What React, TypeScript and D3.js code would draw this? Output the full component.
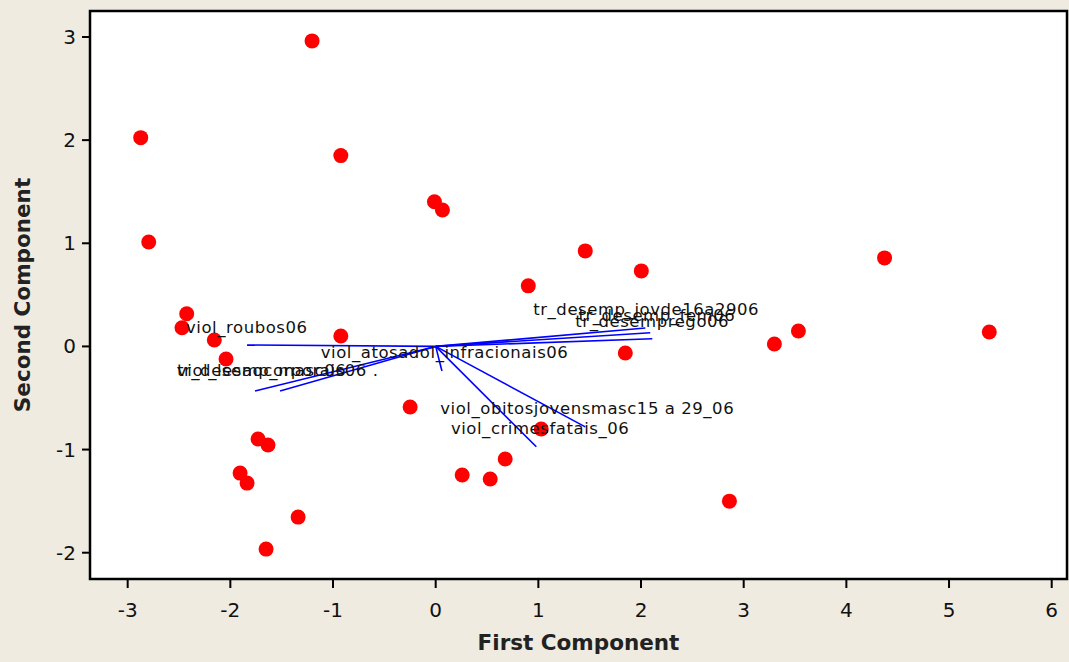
import React from "react";
import * as d3 from "d3";

// Scores (first and second principal components)
const firstComponent = [
  -2.873, -2.795, -1.204, -0.924, -0.012, 0.066, 1.457, 2.003, 0.902, 4.372,
  -2.425, -2.471, -2.156, -2.042, -0.924, 1.847, 3.299, 3.533, 5.392, 2.861,
  -0.249, 1.028, 0.258, 0.531, 0.677, -1.73, -1.633, -1.905, -1.837, -1.34, -1.652,
];
const secondComponent = [
  2.024, 1.013, 2.962, 1.85, 1.403, 1.323, 0.926, 0.732, 0.587, 0.858,
  0.317, 0.181, 0.062, -0.122, 0.101, -0.064, 0.023, 0.149, 0.14, -1.5,
  -0.588, -0.801, -1.247, -1.286, -1.092, -0.898, -0.956, -1.228, -1.325, -1.655, -1.965,
];

// Loading vectors (scaled, in score units)
const loadingX = [-1.837, -1.76, -1.516, 0.061, 0.98, 1.457, 2.042, 2.09, 2.11];
const loadingY = [0.014, -0.433, -0.433, -0.239, -0.973, -0.78, 0.178, 0.133, 0.075];

// Variable labels and their anchor positions (score units)
const varNames = [
  "viol_roubos06",
  "tr_desemp_masc06",
  "viol_lesaocorporais06 .",
  "viol_atosadol_infracionais06",
  "viol_obitosjovensmasc15 a 29_06",
  "viol_crimesfatais_06",
  "tr_desemp_jovde16a2906",
  "tr_desemp_fem06",
  "tr_desemprego06",
];
const labelX = [-2.432, -2.52, -2.52, -1.12, 0.044, 0.148, 0.95, 1.39, 1.36];
const labelY = [0.133, -0.287, -0.287, -0.115, -0.656, -0.85, 0.305, 0.246, 0.188];

const xTicks = [-3, -2, -1, 0, 1, 2, 3, 4, 5, 6];
const yTicks = [-2, -1, 0, 1, 2, 3];

const W = 1069;
const H = 662;
const left = 90;
const right = 1067;
const top = 11;
const bottom = 579;

export default function App() {
  const x = d3.scaleLinear().domain([-3.367, 6.149]).range([left, right]);
  const y = d3.scaleLinear().domain([-2.255, 3.252]).range([bottom, top]);
  const font = "'DejaVu Sans', Verdana, sans-serif";

  return (
    <svg
      width={W}
      height={H}
      style={{ position: "absolute", left: 0, top: 0 }}
      fontFamily={font}
    >
      <rect x={0} y={0} width={W} height={H} fill="#efebe1" />
      <rect x={left} y={top} width={right - left} height={bottom - top} fill="#ffffff" />

      {/* loading vectors */}
      {loadingX.map((lx, i) => (
        <line
          key={"l" + i}
          x1={x(0)}
          y1={y(0)}
          x2={x(lx)}
          y2={y(loadingY[i])}
          stroke="#0000ff"
          strokeWidth={1.6}
        />
      ))}

      {/* points */}
      {firstComponent.map((v, i) => (
        <circle key={"p" + i} cx={x(v)} cy={y(secondComponent[i])} r={7.5} fill="#ff0000" />
      ))}

      {/* variable labels */}
      {varNames.map((n, i) => (
        <text
          key={"t" + i}
          x={x(labelX[i])}
          y={y(labelY[i])}
          fontSize={16.5}
          letterSpacing={0.55}
          fill="#111"
        >
          {n}
        </text>
      ))}

      {/* frame */}
      <rect
        x={left}
        y={top}
        width={right - left}
        height={bottom - top}
        fill="none"
        stroke="#000"
        strokeWidth={2.5}
      />

      {/* x axis ticks */}
      {xTicks.map((t) => (
        <g key={"xt" + t}>
          <line x1={x(t)} x2={x(t)} y1={bottom} y2={bottom + 9} stroke="#000" strokeWidth={2} />
          <text x={x(t)} y={bottom + 38} textAnchor="middle" fontSize={20} fill="#111">
            {t}
          </text>
        </g>
      ))}
      {/* y axis ticks */}
      {yTicks.map((t) => (
        <g key={"yt" + t}>
          <line x1={left - 8} x2={left} y1={y(t)} y2={y(t)} stroke="#000" strokeWidth={2} />
          <text x={left - 14} y={y(t) + 7} textAnchor="end" fontSize={20} fill="#111">
            {t}
          </text>
        </g>
      ))}

      <text
        x={(left + right) / 2}
        y={650}
        textAnchor="middle"
        fontSize={21.5}
        fontWeight="bold"
        fill="#222"
      >
        First Component
      </text>
      <text
        transform={`translate(30, ${(top + bottom) / 2}) rotate(-90)`}
        textAnchor="middle"
        fontSize={21.5}
        fontWeight="bold"
        fill="#222"
      >
        Second Component
      </text>
    </svg>
  );
}
